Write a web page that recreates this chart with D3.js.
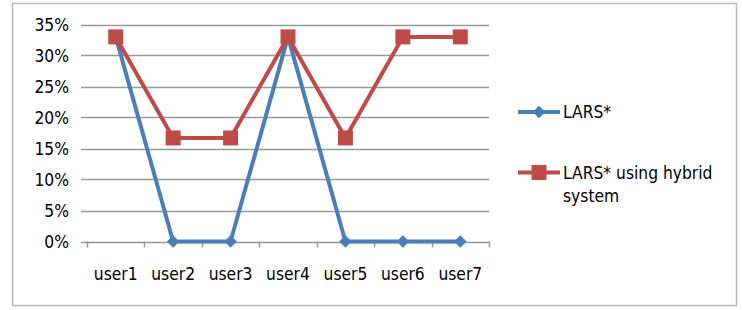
<!DOCTYPE html>
<html><head><meta charset="utf-8">
<script src="https://cdn.jsdelivr.net/npm/d3@7"></script>
<style>body{margin:0;background:#fff}svg{display:block}text{font-family:"DejaVu Sans",sans-serif;fill:#000}</style>
</head><body><svg id="c" width="742" height="310"></svg>
<script>
const categories = ["user1","user2","user3","user4","user5","user6","user7"];
const lars = [0.33,0,0,0.33,0,0,0];
const hybrid = [0.33,0.167,0.167,0.33,0.167,0.33,0.33];
const yTicks = [0,0.05,0.10,0.15,0.20,0.25,0.30,0.35];
const seriesNames = ["LARS*","LARS* using hybrid system"];

const svg = d3.select("#c");
svg.append("rect").attr("x",12.5).attr("y",3.5).attr("width",724).attr("height",302)
  .attr("fill","none").attr("stroke","#b8b8b8").attr("stroke-width",1.5);

const L=87, R=489, T=24.5, B=241.5;
const x = d3.scaleBand().domain(categories).range([L,R]);
const y = d3.scaleLinear().domain([0,0.35]).range([B,T]);
const FS=17, SX=0.915;
function txt(g, xx, yy, s, anchor){
  return g.append("text").attr("transform",`translate(${xx},${yy}) scale(${SX},1)`)
    .attr("text-anchor",anchor||"start").attr("font-size",FS).text(s);
}

// gridlines
svg.append("g").selectAll("line").data(yTicks).join("line")
  .attr("x1",81).attr("x2",R).attr("y1",d=>Math.round(y(d))+0.5).attr("y2",d=>Math.round(y(d))+0.5)
  .attr("stroke","#999").attr("stroke-width",1.5);
// y labels
const yl = svg.append("g");
yTicks.forEach(d=>txt(yl,69,y(d)+6,d3.format(".0%")(d),"end"));
// x ticks
const edges = categories.map(c=>x(c)).concat([R]);
svg.append("g").selectAll("line").data(edges).join("line")
  .attr("x1",d=>Math.round(d)+0.5).attr("x2",d=>Math.round(d)+0.5).attr("y1",B).attr("y2",B+6)
  .attr("stroke","#999").attr("stroke-width",1.5);
const xl = svg.append("g");
categories.forEach(c=>txt(xl,x(c)+x.bandwidth()/2,280,c,"middle"));

const cx = (d,i)=>x(categories[i])+x.bandwidth()/2;
const line = d3.line().x(cx).y(d=>y(d));
const blue="#4A7EBB", red="#BE4B48";
const diamond = d3.symbol().type(d3.symbolDiamond2).size(100);
svg.append("path").attr("d",line(lars)).attr("fill","none").attr("stroke",blue).attr("stroke-width",4).attr("stroke-linejoin","round");
svg.append("g").selectAll("path").data(lars).join("path")
  .attr("transform",(d,i)=>`translate(${cx(d,i)},${y(d)})`).attr("d",diamond).attr("fill",blue);
svg.append("path").attr("d",line(hybrid)).attr("fill","none").attr("stroke",red).attr("stroke-width",4).attr("stroke-linejoin","round");
svg.append("g").selectAll("rect").data(hybrid).join("rect")
  .attr("x",(d,i)=>cx(d,i)-7.5).attr("y",d=>y(d)-7.5).attr("width",15).attr("height",15).attr("fill",red);

// legend
const lg = svg.append("g");
lg.append("line").attr("x1",518).attr("x2",560).attr("y1",112).attr("y2",112).attr("stroke",blue).attr("stroke-width",4);
lg.append("path").attr("transform","translate(539,112)").attr("d",diamond).attr("fill",blue);
txt(lg,563,118,seriesNames[0]);
lg.append("line").attr("x1",518).attr("x2",560).attr("y1",172.5).attr("y2",172.5).attr("stroke",red).attr("stroke-width",4);
lg.append("rect").attr("x",531.5).attr("y",165).attr("width",15).attr("height",15).attr("fill",red);
txt(lg,563,179,"LARS* using hybrid");
txt(lg,563,202,"system");
</script></body></html>
